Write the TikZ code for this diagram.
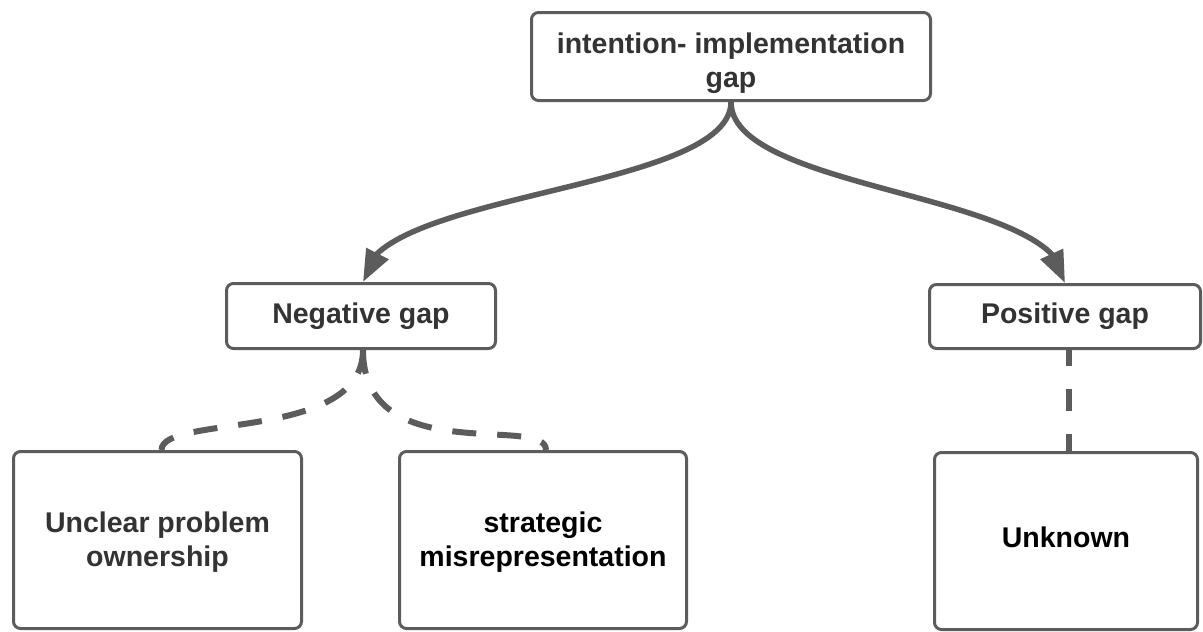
\documentclass[tikz,border=0pt]{standalone}
\usepackage{fontspec}
\setmainfont{Liberation Sans}
\usetikzlibrary{arrows.meta,bending}
\definecolor{linegray}{HTML}{5C5C5C}
\definecolor{txtgray}{HTML}{333333}
\begin{document}
\begin{tikzpicture}[x=1pt,y=-1pt,
  box/.style={draw=linegray, line width=3pt, rounded corners=7pt, fill=white,
    align=center, inner sep=0pt, font=\fontsize{28.5}{34}\selectfont\bfseries, text=txtgray},
  arrowline/.style={draw=linegray, line width=5.5pt,
    -{Triangle[length=32pt,width=24pt,flex]}},
  dashline/.style={draw=linegray, line width=6pt, dash pattern=on 24pt off 21pt}
]
\useasboundingbox (0,0) rectangle (1203,632);
\fill[white] (0,0) rectangle (1203,632);

\node[box, minimum width=399pt, minimum height=88pt] (top) at (731,56.5)
  {\rule{0pt}{34pt}intention- implementation\\gap};
\node[box, minimum width=269pt, minimum height=65pt] (neg) at (361,316) {Negative gap};
\node[box, minimum width=271pt, minimum height=64pt] (pos) at (1065,316.5) {Positive gap};
\node[box, minimum width=288pt, minimum height=177pt] (unclear) at (157.5,540)
  {\rule{0pt}{25pt}Unclear problem\\ownership};
\node[box, minimum width=287pt, minimum height=177pt, text=black] (strat) at (543,540)
  {\rule{0pt}{25pt}strategic\\misrepresentation};
\node[box, minimum width=263pt, minimum height=177pt, text=black] (unk) at (1066,541)
  {\rule[-8pt]{0pt}{1pt}Unknown};

\draw[arrowline] (top.south) .. controls +(0,90) and +(0,-90) .. ([xshift=2pt]neg.north);
\draw[arrowline] (top.south) .. controls +(0,90) and +(0,-90) .. (pos.north);

\draw[dashline] ([xshift=2pt]neg.south) .. controls +(0,92) and +(0,-36) .. ([xshift=4pt]unclear.north);
\draw[dashline] ([xshift=2pt]neg.south) .. controls +(0,120) and +(0,-36) .. ([xshift=3pt]strat.north);
\draw[dashline, dash pattern=on 22pt off 23pt, dash phase=6pt] ([xshift=4pt]pos.south) -- ([xshift=3pt]unk.north);
\end{tikzpicture}
\end{document}
